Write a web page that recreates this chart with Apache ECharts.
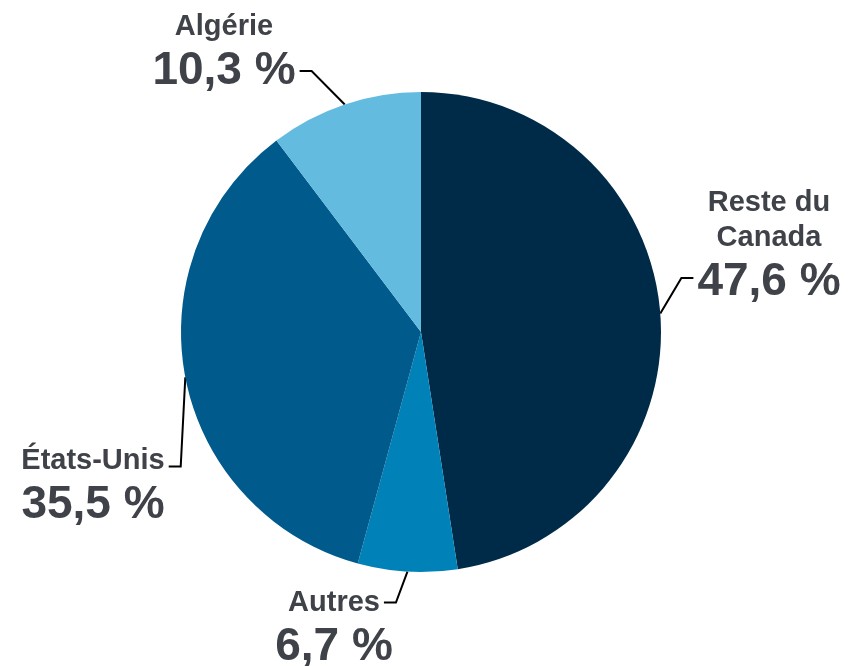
<!DOCTYPE html>
<html><head><meta charset="utf-8">
<script src="https://cdn.jsdelivr.net/npm/echarts@6/dist/echarts.min.js"></script>
<style>html,body{margin:0;padding:0;background:#fff}#c{width:858px;height:666px}</style>
</head><body><div id="c"></div>
<script>
// ---- data ----
const categories = ['Reste du\nCanada', 'Autres', 'États-Unis', 'Algérie'];
const shares = [47.6, 6.7, 35.5, 10.3];

// ---- styling / layout (not data) ----
const sliceColors = ['#002b48', '#0082b9', '#005a8b', '#63bbe0'];
const FONT = '"Liberation Sans", Arial, Helvetica, sans-serif';
const TEXT_COLOR = '#3f4248';
const NAME_SIZE = 29, VALUE_SIZE = 46, NAME_LH = 35, VALUE_LH = 54;
const GAP = 4, LEN2 = 12;
const labelPlacement = [
  {cx: 769, top: 185, side: 'left',  row: 'value', dy: -4},
  {cx: 334, top: 585, side: 'right', row: 'name',  dy: 0},
  {cx: 93,  top: 443, side: 'right', row: 'name',  dy: 6},
  {cx: 224, top: 9,   side: 'right', row: 'value', dy: 0}
];

const measureCtx = document.createElement('canvas').getContext('2d');
function textWidth(str, size) {
  measureCtx.font = 'bold ' + size + 'px ' + FONT;
  return measureCtx.measureText(str).width;
}
function fmtValue(v) { return v.toFixed(1).replace('.', ',') + ' %'; }

const chart = echarts.init(document.getElementById('c'), null, {renderer: 'canvas'});
chart.setOption({
  animation: false,
  backgroundColor: '#ffffff',
  series: [{
    type: 'pie',
    center: [421, 332],
    radius: 240,
    startAngle: 90,
    clockwise: true,
    avoidLabelOverlap: false,
    emphasis: {disabled: true},
    color: sliceColors,
    data: categories.map((c, i) => ({name: c, value: shares[i]})),
    label: {
      show: true,
      position: 'outside',
      align: 'center',
      formatter: p => '{n|' + p.name + '}\n{v|' + fmtValue(p.value) + '}',
      rich: {
        n: {fontFamily: FONT, fontSize: NAME_SIZE, fontWeight: 'bold', lineHeight: NAME_LH, color: TEXT_COLOR, align: 'center'},
        v: {fontFamily: FONT, fontSize: VALUE_SIZE, fontWeight: 'bold', lineHeight: VALUE_LH, color: TEXT_COLOR, align: 'center'}
      }
    },
    labelLine: {
      show: true,
      length: 20,
      length2: LEN2,
      smooth: false,
      lineStyle: {color: '#000000', width: 2}
    },
    labelLayout: function (p) {
      const i = p.dataIndex;
      const pl = labelPlacement[i];
      const nameLines = categories[i].split('\n');
      let rowY, rowW;
      if (pl.row === 'value') {
        rowY = pl.top + NAME_LH * nameLines.length + VALUE_LH / 2;
        rowW = textWidth(fmtValue(shares[i]), VALUE_SIZE);
      } else {
        rowY = pl.top + NAME_LH * (nameLines.length - 0.5);
        rowW = textWidth(nameLines[nameLines.length - 1], NAME_SIZE);
      }
      rowY += pl.dy;
      const dir = pl.side === 'right' ? 1 : -1;
      const endX = pl.cx + dir * (rowW / 2 + GAP);
      const elbowX = endX + dir * LEN2;
      const ret = {x: pl.cx, y: pl.top, align: 'center', verticalAlign: 'top'};
      if (p.labelLinePoints) {
        ret.labelLinePoints = [p.labelLinePoints[0], [elbowX, rowY], [endX, rowY]];
      }
      return ret;
    }
  }]
});
</script>
</body></html>
